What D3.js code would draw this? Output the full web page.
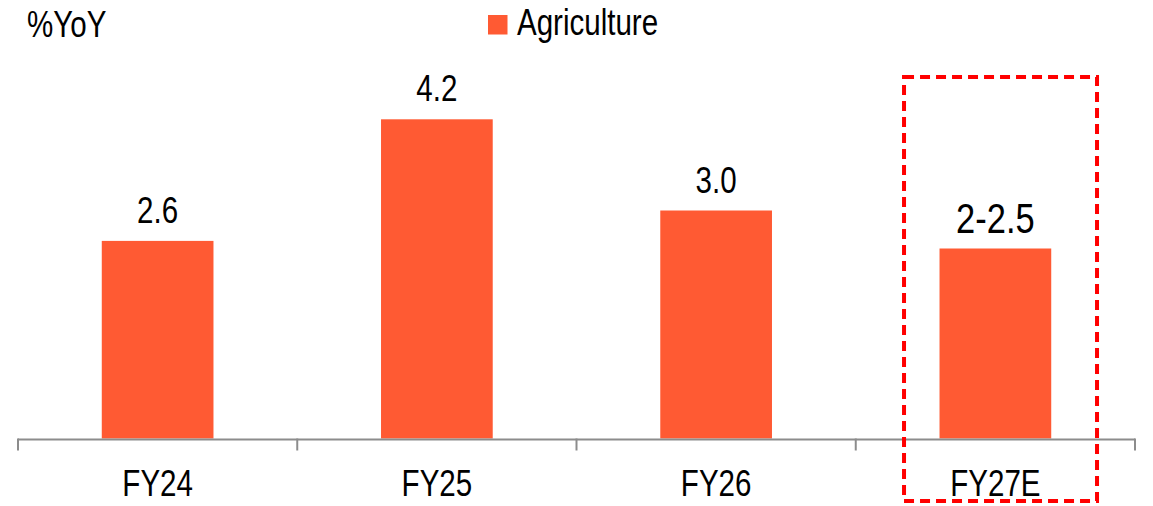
<!DOCTYPE html>
<html>
<head>
<meta charset="utf-8">
<script src="https://cdn.jsdelivr.net/npm/d3@7"></script>
<style>
  html, body { margin: 0; padding: 0; background: #fff; }
  svg { display: block; }
  text { font-family: "Liberation Sans Narrow", "Arial Narrow", "Liberation Sans", Arial, sans-serif; fill: #000; }
</style>
</head>
<body>
<svg id="chart" width="1153" height="506"></svg>
<script>
// Agriculture growth, %YoY
const categories = ["FY24", "FY25", "FY26", "FY27E"];
const values = [2.6, 4.2, 3.0, 2.5];
const valueLabels = ["2.6", "4.2", "3.0", "2-2.5"];
const seriesName = "Agriculture";
const unitLabel = "%YoY";
const highlighted = "FY27E";

const svg = d3.select("#chart");
const barColor = "#FF5A33";
const axisColor = "#8C8C8C";

const baseY = 438.5;
const x = d3.scaleBand()
  .domain(categories)
  .range([18, 1135])
  .paddingInner(0.6)
  .paddingOuter(0.3);

const y = d3.scaleLinear()
  .domain([0, 5])
  .range([baseY, baseY - 380]);

// bars
svg.append("g").selectAll("rect")
  .data(categories)
  .join("rect")
  .attr("x", d => x(d))
  .attr("width", x.bandwidth())
  .attr("y", (d, i) => y(values[i]))
  .attr("height", (d, i) => y(0) - y(values[i]))
  .attr("fill", barColor);

// value labels
svg.append("g").selectAll("text")
  .data(categories)
  .join("text")
  .attr("x", d => x(d) + x.bandwidth() / 2)
  .attr("y", (d, i) => y(values[i]) - (d === highlighted ? 16 : 18))
  .attr("text-anchor", "middle")
  .attr("font-size", d => d === highlighted ? 42 : 36)
  .text((d, i) => valueLabels[i]);

// category axis: baseline with boundary ticks
const [r0, r1] = x.range();
const axis = svg.append("g");
axis.append("line")
  .attr("x1", r0).attr("x2", r1)
  .attr("y1", baseY + 1).attr("y2", baseY + 1)
  .attr("stroke", axisColor).attr("stroke-width", 2);
axis.selectAll("line.tick")
  .data(d3.range(categories.length + 1))
  .join("line")
  .attr("class", "tick")
  .attr("x1", i => r0 + i * x.step())
  .attr("x2", i => r0 + i * x.step())
  .attr("y1", baseY).attr("y2", baseY + 12)
  .attr("stroke", axisColor).attr("stroke-width", 2);
axis.selectAll("text")
  .data(categories)
  .join("text")
  .attr("x", d => x(d) + x.bandwidth() / 2)
  .attr("y", 496)
  .attr("text-anchor", "middle")
  .attr("font-size", 36)
  .text(d => d);

// unit label
svg.append("text")
  .attr("x", 27).attr("y", 37)
  .attr("font-size", 36)
  .text(unitLabel);

// legend
const legend = svg.append("g");
legend.append("rect")
  .attr("x", 488).attr("y", 15)
  .attr("width", 19.5).attr("height", 19.5)
  .attr("fill", barColor);
legend.append("text")
  .attr("x", 517).attr("y", 35)
  .attr("font-size", 36)
  .text(seriesName);

// dashed frame around the estimate
const hx = x(highlighted);
svg.append("rect")
  .attr("x", hx - 35.5)
  .attr("y", 77)
  .attr("width", 193)
  .attr("height", 424)
  .attr("fill", "none")
  .attr("stroke", "#FF0000")
  .attr("stroke-width", 4)
  .attr("stroke-dasharray", "10,6");

// condensed lettering: squeeze glyphs when no narrow face is available
svg.selectAll("text").each(function () {
  const w = this.getComputedTextLength();
  const fam = getComputedStyle(this).fontFamily;
  if (w > 0) {
    d3.select(this)
      .attr("textLength", w * 0.82)
      .attr("lengthAdjust", "spacingAndGlyphs");
  }
});
</script>
</body>
</html>
